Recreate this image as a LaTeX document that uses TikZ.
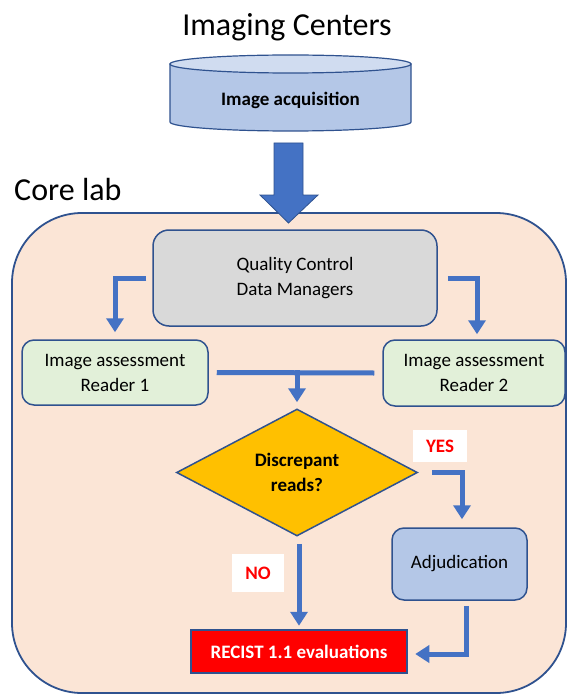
\documentclass[tikz,border=0pt]{standalone}
\usepackage{fontspec}
\setmainfont{Carlito}
\usetikzlibrary{arrows.meta,shapes.geometric,calc}

\definecolor{edge}{RGB}{47,82,143}
\definecolor{flowblue}{RGB}{68,114,196}
\definecolor{labfill}{RGB}{251,229,214}
\definecolor{qcfill}{RGB}{217,217,217}
\definecolor{readerfill}{RGB}{226,240,217}
\definecolor{decfill}{RGB}{255,192,0}
\definecolor{adjfill}{RGB}{180,199,231}
\definecolor{cyltop}{RGB}{208,220,240}
\definecolor{alert}{RGB}{255,0,0}

\begin{document}
\begin{tikzpicture}[x=1pt,y=-1pt,
  txt/.style={font=\fontsize{19}{25}\selectfont, align=center, text=black, inner sep=0pt},
  boldtxt/.style={font=\fontsize{19}{25}\selectfont\bfseries, align=center, inner sep=0pt},
  headtxt/.style={font=\fontsize{32}{38}\selectfont, text=black, inner sep=0pt},
  box/.style={txt, draw=edge, line width=1.5pt, rounded corners=14pt},
  flow/.style={draw=flowblue, line width=5pt, -{Triangle[width=17pt,length=14pt]}},
  plainflow/.style={draw=flowblue, line width=5pt},
  tag/.style={boldtxt, fill=white, text=alert}]

\useasboundingbox (0,0) rectangle (567,695);

% headings
\node[headtxt] (title) at (287,27) {Imaging Centers};
\node[headtxt, anchor=west] (corelabel) at (14,190) {Core lab};

% core lab area
\node[draw=edge, line width=1.8pt, fill=labfill, rounded corners=70pt,
      minimum width=554pt, minimum height=480pt, inner sep=0pt] (core) at (289,453) {};

% image acquisition drum
\fill[adjfill, draw=edge, line width=1.2pt]
  (170,64) -- (170,122) arc[start angle=180, end angle=360, x radius=120.5pt, y radius=9pt]
  -- (411,64) -- cycle;
\filldraw[fill=cyltop, draw=edge, line width=1.2pt] (290.5,64) ellipse [x radius=120.5pt, y radius=9pt];
\node[boldtxt, text=black] (acq) at (290.5,100) {Image acquisition};

% block arrow into the core lab
\coordinate (bigtop) at (288.5,143);
\coordinate (bigtip) at (288.5,223);
\filldraw[fill=flowblue, draw=edge, line width=0.8pt]
  ($(bigtop)+(-14.5,0)$) -- ($(bigtop)+(14.5,0)$) -- ($(bigtip)+(14.5,-28)$)
  -- ($(bigtip)+(29.5,-28)$) -- (bigtip) -- ($(bigtip)+(-28.5,-28)$)
  -- ($(bigtip)+(-14.5,-28)$) -- cycle;

% process boxes
\node[box, fill=qcfill, rounded corners=16pt, minimum width=284pt, minimum height=96pt] (qc) at (295,278)
  {Quality Control\\Data Managers};
\node[box, fill=readerfill, rounded corners=12pt, minimum width=186pt, minimum height=65pt] (r1) at (115,372.5)
  {Image assessment\\Reader 1};
\node[box, fill=readerfill, rounded corners=12pt, minimum width=182pt, minimum height=66pt] (r2) at (474,373)
  {Image assessment\\Reader 2};
\node[diamond, draw=edge, line width=1.5pt, fill=decfill, minimum width=241pt, minimum height=127pt,
      inner sep=0pt, boldtxt, text=black] (dia) at (297,472.5) {Discrepant\\reads?};
\node[box, fill=adjfill, rounded corners=12pt, minimum width=135pt, minimum height=72pt] (adj) at (459.5,564)
  {Adjudication};
\node[boldtxt, text=white, fill=alert, draw=edge, line width=2.5pt, minimum width=216pt, minimum height=43pt]
  (rec) at (299,651.5) {RECIST 1.1 evaluations};

% branch labels
\node[tag, minimum width=54pt, minimum height=32pt] (yes) at (440,446) {YES};
\node[tag, minimum width=52pt, minimum height=38pt] (no) at (258,573) {NO};

% connectors
\draw[flow] ([xshift=-6pt]qc.west) -| ([yshift=7pt]r1.north);
\draw[flow] ([xshift=10pt]qc.east) -| ([xshift=3pt,yshift=5pt]r2.north);
\draw[plainflow] ([xshift=8pt]r1.east) -- ([xshift=-8pt]r2.west);
\coordinate (merge) at (dia.north |- r1.east);
\draw[flow] ([yshift=2.5pt]merge) -- ([yshift=6pt]dia.north);
\draw[flow] ([xshift=14pt]dia.east) -| ([xshift=2.5pt,yshift=8pt]adj.north);
\draw[flow] ([xshift=2pt,yshift=-7pt]dia.south) -- ([yshift=3pt]rec.north);
\draw[flow] ([xshift=6.5pt,yshift=-5pt]adj.south) |- ([xshift=7pt,yshift=-2.5pt]rec.east);

\end{tikzpicture}
\end{document}
